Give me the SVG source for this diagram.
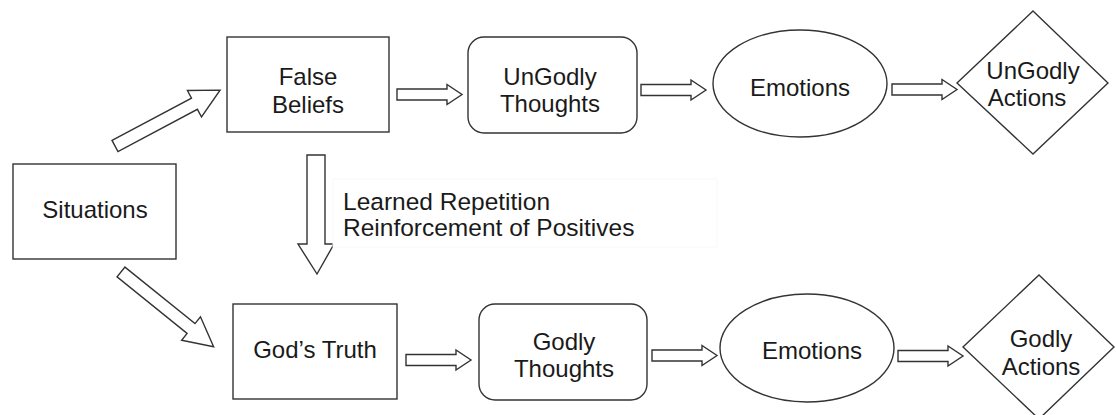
<svg xmlns="http://www.w3.org/2000/svg" xmlns:xlink="http://www.w3.org/1999/xlink" width="1116" height="415" viewBox="0 0 1116 415">
<style>
.shape{fill:#fff;stroke:#333;stroke-width:1.4}
.arr{fill:#fff;stroke:#333;stroke-width:1.4;stroke-linejoin:miter}
.t{font-family:"Liberation Sans",Arial,sans-serif;font-size:24px;fill:#1a1a1a;text-anchor:middle}
.lbl{font-family:"Liberation Sans",Arial,sans-serif;font-size:24.5px;fill:#1a1a1a}
</style>
<defs>
<path id="harrow" d="M0,-5.5 H50 V-10 L65,0 L50,10 V5.5 H0 Z"/>
<path id="darrow" d="M0,-6.3 H90 V-15 L119,0 L90,15 V6.3 H0 Z"/>
</defs>
<rect width="1116" height="415" fill="#fff"/>
<g id="connectors">
<use xlink:href="#darrow" class="arr" transform="translate(115,146) rotate(-28)"/>
<use xlink:href="#darrow" class="arr" transform="translate(121,272) rotate(38.9)"/>
<path class="arr" d="M307,155 H325 V244 H334 L317,274 L298,244 H307 Z"/>
<use xlink:href="#harrow" class="arr" transform="translate(397,94.5)"/>
<use xlink:href="#harrow" class="arr" transform="translate(641,90)"/>
<use xlink:href="#harrow" class="arr" transform="translate(892,89.5)"/>
<use xlink:href="#harrow" class="arr" transform="translate(406,360)"/>
<use xlink:href="#harrow" class="arr" transform="translate(652,355.5)"/>
<use xlink:href="#harrow" class="arr" transform="translate(898,356)"/>
</g>
<g id="label">
<rect x="333" y="179" width="384" height="68" fill="#fff" stroke="#f8f8f8" stroke-width="1"/>
<text class="lbl" x="343" y="210">Learned Repetition</text>
<text class="lbl" x="343" y="236">Reinforcement of Positives</text>
</g>
<g id="situations">
<rect class="shape" x="13" y="164" width="163" height="95"/>
<text class="t" x="95" y="218">Situations</text>
</g>
<g id="false-beliefs">
<rect class="shape" x="227" y="37" width="162" height="95"/>
<text class="t" x="308" y="85">False</text>
<text class="t" x="308" y="113">Beliefs</text>
</g>
<g id="ungodly-thoughts">
<rect class="shape" x="468" y="37" width="169" height="96" rx="16"/>
<text class="t" x="550" y="85">UnGodly</text>
<text class="t" x="550" y="112">Thoughts</text>
</g>
<g id="emotions-top">
<ellipse class="shape" cx="800" cy="83.5" rx="87" ry="53.5"/>
<text class="t" x="800" y="96">Emotions</text>
</g>
<g id="ungodly-actions">
<polygon class="shape" points="1033,11 1108,83 1033,154 957,83"/>
<text class="t" x="1033" y="79">UnGodly</text>
<text class="t" x="1027" y="106">Actions</text>
</g>
<g id="gods-truth">
<rect class="shape" x="233" y="304" width="164" height="95"/>
<text class="t" x="315" y="358">God’s Truth</text>
</g>
<g id="godly-thoughts">
<rect class="shape" x="479" y="304" width="168" height="96" rx="16"/>
<text class="t" x="564" y="350">Godly</text>
<text class="t" x="564" y="377">Thoughts</text>
</g>
<g id="emotions-bottom">
<ellipse class="shape" cx="807" cy="348" rx="87" ry="54"/>
<text class="t" x="812" y="359">Emotions</text>
</g>
<g id="godly-actions">
<polygon class="shape" points="1039,275 1114,347 1039,419 963,347"/>
<text class="t" x="1041" y="347">Godly</text>
<text class="t" x="1041" y="375">Actions</text>
</g>
</svg>
